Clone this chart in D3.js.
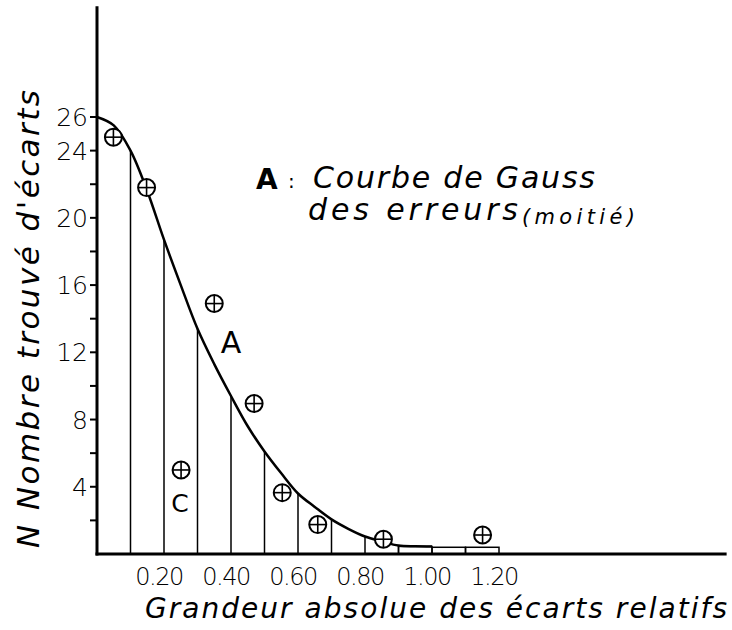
<!DOCTYPE html>
<html>
<head>
<meta charset="utf-8">
<script src="https://cdn.jsdelivr.net/npm/d3@7"></script>
<style>
    body { margin: 0; background: #fff; }
    .axisLine { stroke: #000; stroke-width: 3; fill: none; stroke-linecap: square; }
    .gauss { stroke: #000; stroke-width: 2.5; fill: none; }
    .strip { stroke: #000; stroke-width: 1.5; fill: none; }
    .marker circle { stroke: #000; stroke-width: 2; fill: #fff; }
    .marker line { stroke: #000; stroke-width: 1.6; }
    text { fill: #000; }
</style>
</head>
<body>
<script>
(function(){

    var curveX = [0, 0.05, 0.1, 0.15, 0.2, 0.25, 0.3, 0.35, 0.4, 0.45, 0.5, 0.55, 0.6, 0.65, 0.7, 0.75, 0.8, 0.85, 0.9, 0.95, 1.0];
    var curveN = [26, 25.5, 24.0, 21.6, 18.7, 16.0, 13.4, 11.3, 9.4, 7.6, 6.1, 4.8, 3.6, 2.8, 2.06, 1.5, 1.04, 0.75, 0.5, 0.46, 0.45];

    //vertical strips under the curve (every 0.1)
    var stripX = [0.1, 0.2, 0.3, 0.4, 0.5, 0.6, 0.7, 0.8, 0.9];
    var stripN = [24.0, 18.7, 13.4, 9.4, 6.1, 3.6, 2.06, 1.04, 0.5];

    //small boxes in the tail
    var tailX = [0.9, 1.0, 1.1];
    var tailN = [0.45, 0.4, 0.4];

    //observed counts (circled crosses)
    var obsX = [0.049, 0.148, 0.251, 0.35, 0.469, 0.553, 0.659, 0.855, 1.151];
    var obsN = [24.8, 21.8, 5.0, 14.9, 8.95, 3.65, 1.75, 0.88, 1.13];

    //axis labels
    var yTicks = [2, 4, 6, 8, 10, 12, 14, 16, 18, 20, 22, 24, 26];
    var yLabels = [4, 8, 12, 16, 20, 24, 26];
    var xLabels = [0.2, 0.4, 0.6, 0.8, 1.0, 1.2];

    window.onload = setChart();

    function setChart(){
        var width = 732,
            height = 630;

        var svg = d3.select("body")
            .append("svg")
            .attr("width", width)
            .attr("height", height);

        svg.append("rect")
            .attr("width", width)
            .attr("height", height)
            .attr("fill", "#fff");

        var x = d3.scaleLinear()
            .domain([0, 1.2])
            .range([97, 499]);

        var y = d3.scaleLinear()
            .domain([0, 26])
            .range([554, 117]);

        //strips under the curve
        svg.selectAll(".stripLine")
            .data(stripX)
            .enter()
            .append("line")
            .attr("class", "strip")
            .attr("x1", function(d){ return x(d); })
            .attr("x2", function(d){ return x(d); })
            .attr("y1", y(0))
            .attr("y2", function(d, i){ return y(stripN[i]); });

        //tail boxes
        svg.selectAll(".tail")
            .data(tailX)
            .enter()
            .append("rect")
            .attr("class", "strip")
            .attr("x", function(d){ return x(d); })
            .attr("width", x(0.1) - x(0))
            .attr("y", function(d, i){ return y(tailN[i]); })
            .attr("height", function(d, i){ return y(0) - y(tailN[i]); });

        //Gauss curve
        var line = d3.line()
            .x(function(d){ return x(d); })
            .y(function(d, i){ return y(curveN[i]); })
            .curve(d3.curveCatmullRom.alpha(0.5));

        svg.append("path")
            .datum(curveX)
            .attr("class", "gauss")
            .attr("d", line);

        //axes
        svg.append("line")
            .attr("class", "axisLine")
            .attr("x1", x(0)).attr("x2", x(0))
            .attr("y1", y(0)).attr("y2", y(32.5));

        svg.append("line")
            .attr("class", "axisLine")
            .attr("x1", x(0)).attr("x2", x(1.875))
            .attr("y1", y(0)).attr("y2", y(0));

        //y ticks
        svg.selectAll(".ytick")
            .data(yTicks)
            .enter()
            .append("line")
            .attr("stroke", "#000")
            .attr("stroke-width", 2)
            .attr("x1", x(0) - 7)
            .attr("x2", x(0))
            .attr("y1", function(d){ return y(d); })
            .attr("y2", function(d){ return y(d); });

        svg.selectAll(".ylab")
            .data(yLabels)
            .enter()
            .append("text")
            .attr("x", 88)
            .attr("y", function(d){ return y(d); })
            .attr("dy", "0.36em")
            .attr("text-anchor", "end")
            .style("font-family", "'DejaVu Sans', sans-serif")
            .style("font-weight", "300")
            .style("font-size", "25px")
            .text(function(d){ return d; });

        svg.selectAll(".xlab")
            .data(xLabels)
            .enter()
            .append("text")
            .attr("x", function(d){ return x(d) - 5; })
            .attr("y", 585)
            .attr("text-anchor", "middle")
            .style("font-family", "'DejaVu Sans', sans-serif")
            .style("font-weight", "300")
            .style("letter-spacing", "-1.5px")
            .style("font-size", "24px")
            .text(function(d){ return d.toFixed(2); });

        //observed markers
        var markers = svg.selectAll(".marker")
            .data(obsX)
            .enter()
            .append("g")
            .attr("class", "marker")
            .attr("transform", function(d, i){
                return "translate(" + x(d) + "," + y(obsN[i]) + ")";
            });

        markers.append("circle").attr("r", 8.5);
        markers.append("line").attr("x1", -8.5).attr("x2", 8.5);
        markers.append("line").attr("y1", -8.5).attr("y2", 8.5);

        //labels A and C on the plot
        svg.append("text")
            .attr("x", 231)
            .attr("y", 353)
            .attr("text-anchor", "middle")
            .style("font-family", "'DejaVu Sans', sans-serif")
            .style("font-size", "30px")
            .text("A");

        svg.append("text")
            .attr("x", 180)
            .attr("y", 512)
            .attr("text-anchor", "middle")
            .style("font-family", "'DejaVu Sans', sans-serif")
            .style("font-size", "25px")
            .text("C");

        //legend
        svg.append("text")
            .attr("x", 256)
            .attr("y", 189)
            .style("font-family", "'DejaVu Sans', sans-serif")
            .style("font-weight", "bold")
            .style("font-size", "28px")
            .text("A");

        svg.append("text")
            .attr("x", 288)
            .attr("y", 188)
            .style("font-family", "'DejaVu Sans', sans-serif")
            .style("font-size", "20px")
            .text(":");

        svg.append("text")
            .attr("x", 313)
            .attr("y", 188)
            .attr("textLength", 282)
            .style("font-family", "'DejaVu Sans', sans-serif")
            .style("font-style", "italic")
            .style("font-size", "30px")
            .text("Courbe de Gauss");

        svg.append("text")
            .attr("x", 308)
            .attr("y", 220)
            .attr("textLength", 210)
            .style("font-family", "'DejaVu Sans', sans-serif")
            .style("font-style", "italic")
            .style("font-size", "30px")
            .text("des erreurs");

        svg.append("text")
            .attr("x", 522)
            .attr("y", 224)
            .attr("textLength", 113)
            .style("font-family", "'DejaVu Sans', sans-serif")
            .style("font-style", "italic")
            .style("font-size", "21px")
            .text("(moitié)");

        //axis titles
        svg.append("text")
            .attr("x", 145)
            .attr("y", 618)
            .attr("textLength", 582)
            .style("font-family", "'DejaVu Sans', sans-serif")
            .style("font-style", "italic")
            .style("font-size", "28px")
            .text("Grandeur absolue des écarts relatifs");

        svg.append("text")
            .attr("transform", "translate(39,548) rotate(-90)")
            .attr("textLength", 458)
            .style("font-family", "'DejaVu Sans', sans-serif")
            .style("font-style", "italic")
            .style("font-size", "31px")
            .text("N  Nombre trouvé d'écarts");
    };

})();
</script>
</body>
</html>
